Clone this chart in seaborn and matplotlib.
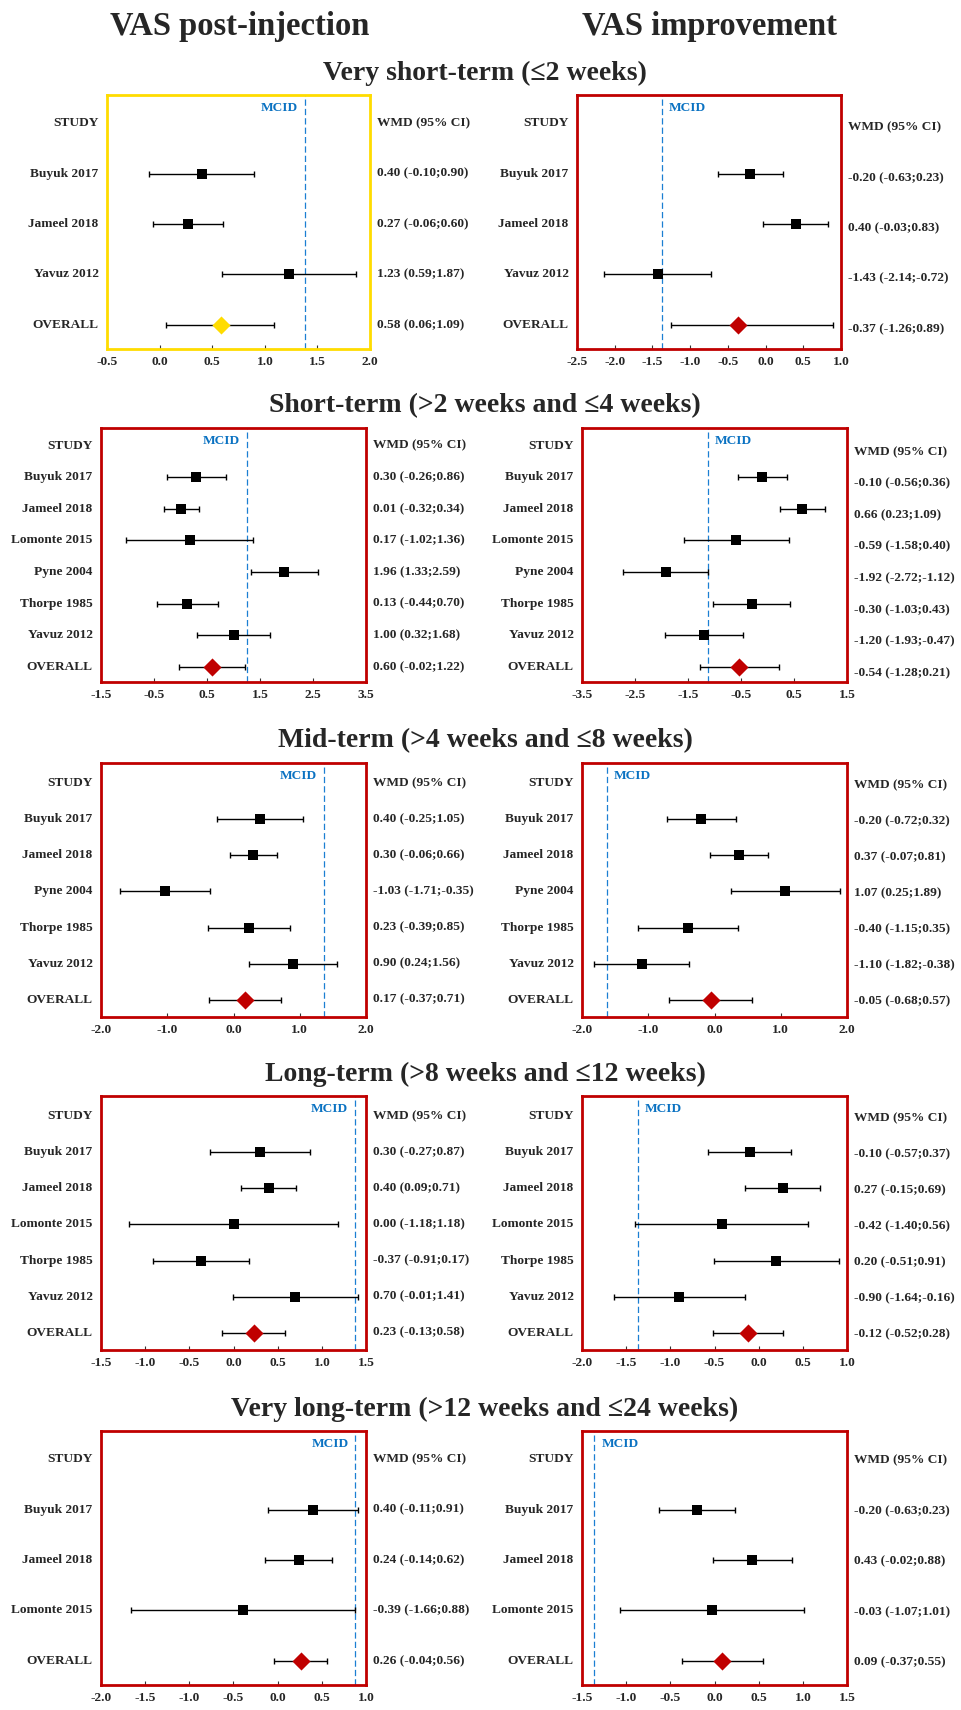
"""
Forest plots: VAS post-injection vs VAS improvement, by follow-up window.
"""

import numpy as np
import pandas as pd
import matplotlib

matplotlib.use("Agg")
import matplotlib.pyplot as plt
import seaborn as sns

sns.set_style("white")
plt.rcParams["font.family"] = ["Liberation Serif", "DejaVu Serif"]
plt.rcParams["font.weight"] = "bold"

# ── Data ─────────────────────────────────────────────
ROW_TITLES = [
    "Very short-term (≤2 weeks)",
    "Short-term (>2 weeks and ≤4 weeks)",
    "Mid-term (>4 weeks and ≤8 weeks)",
    "Long-term (>8 weeks and ≤12 weeks)",
    "Very long-term (>12 weeks and ≤24 weeks)",
]

STUDIES_VST = ["Buyuk 2017", "Jameel 2018", "Yavuz 2012", "OVERALL"]
STUDIES_ST = ["Buyuk 2017", "Jameel 2018", "Lomonte 2015", "Pyne 2004", "Thorpe 1985", "Yavuz 2012", "OVERALL"]
STUDIES_MT = ["Buyuk 2017", "Jameel 2018", "Pyne 2004", "Thorpe 1985", "Yavuz 2012", "OVERALL"]
STUDIES_LT = ["Buyuk 2017", "Jameel 2018", "Lomonte 2015", "Thorpe 1985", "Yavuz 2012", "OVERALL"]
STUDIES_VLT = ["Buyuk 2017", "Jameel 2018", "Lomonte 2015", "OVERALL"]

# VAS post-injection
POST_VST_WMD = [0.40, 0.27, 1.23, 0.58]
POST_VST_LO = [-0.10, -0.06, 0.59, 0.06]
POST_VST_HI = [0.90, 0.60, 1.87, 1.09]

POST_ST_WMD = [0.30, 0.01, 0.17, 1.96, 0.13, 1.00, 0.60]
POST_ST_LO = [-0.26, -0.32, -1.02, 1.33, -0.44, 0.32, -0.02]
POST_ST_HI = [0.86, 0.34, 1.36, 2.59, 0.70, 1.68, 1.22]

POST_MT_WMD = [0.40, 0.30, -1.03, 0.23, 0.90, 0.17]
POST_MT_LO = [-0.25, -0.06, -1.71, -0.39, 0.24, -0.37]
POST_MT_HI = [1.05, 0.66, -0.35, 0.85, 1.56, 0.71]

POST_LT_WMD = [0.30, 0.40, 0.00, -0.37, 0.70, 0.23]
POST_LT_LO = [-0.27, 0.09, -1.18, -0.91, -0.01, -0.13]
POST_LT_HI = [0.87, 0.71, 1.18, 0.17, 1.41, 0.58]

POST_VLT_WMD = [0.40, 0.24, -0.39, 0.26]
POST_VLT_LO = [-0.11, -0.14, -1.66, -0.04]
POST_VLT_HI = [0.91, 0.62, 0.88, 0.56]

# VAS improvement
IMP_VST_WMD = [-0.20, 0.40, -1.43, -0.37]
IMP_VST_LO = [-0.63, -0.03, -2.14, -1.26]
IMP_VST_HI = [0.23, 0.83, -0.72, 0.89]

IMP_ST_WMD = [-0.10, 0.66, -0.59, -1.92, -0.30, -1.20, -0.54]
IMP_ST_LO = [-0.56, 0.23, -1.58, -2.72, -1.03, -1.93, -1.28]
IMP_ST_HI = [0.36, 1.09, 0.40, -1.12, 0.43, -0.47, 0.21]

IMP_MT_WMD = [-0.20, 0.37, 1.07, -0.40, -1.10, -0.05]
IMP_MT_LO = [-0.72, -0.07, 0.25, -1.15, -1.82, -0.68]
IMP_MT_HI = [0.32, 0.81, 1.89, 0.35, -0.38, 0.57]

IMP_LT_WMD = [-0.10, 0.27, -0.42, 0.20, -0.90, -0.12]
IMP_LT_LO = [-0.57, -0.15, -1.40, -0.51, -1.64, -0.52]
IMP_LT_HI = [0.37, 0.69, 0.56, 0.91, -0.16, 0.28]

IMP_VLT_WMD = [-0.20, 0.43, -0.03, 0.09]
IMP_VLT_LO = [-0.63, -0.02, -1.07, -0.37]
IMP_VLT_HI = [0.23, 0.88, 1.01, 0.55]

# MCID reference line per panel (post, improvement)
MCID_POST = [1.38, 1.26, 1.36, 1.37, 0.88]
MCID_IMP = [-1.37, -1.13, -1.63, -1.37, -1.36]

# axis ranges and tick step per panel
XLIM_POST = [(-0.5, 2.0), (-1.5, 3.5), (-2.0, 2.0), (-1.5, 1.5), (-2.0, 1.0)]
STEP_POST = [0.5, 1.0, 1.0, 0.5, 0.5]
XLIM_IMP = [(-2.5, 1.0), (-3.5, 1.5), (-2.0, 2.0), (-2.0, 1.0), (-1.5, 1.5)]
STEP_IMP = [0.5, 1.0, 1.0, 0.5, 0.5]

post_panels = [
    (STUDIES_VST, POST_VST_WMD, POST_VST_LO, POST_VST_HI),
    (STUDIES_ST, POST_ST_WMD, POST_ST_LO, POST_ST_HI),
    (STUDIES_MT, POST_MT_WMD, POST_MT_LO, POST_MT_HI),
    (STUDIES_LT, POST_LT_WMD, POST_LT_LO, POST_LT_HI),
    (STUDIES_VLT, POST_VLT_WMD, POST_VLT_LO, POST_VLT_HI),
]
imp_panels = [
    (STUDIES_VST, IMP_VST_WMD, IMP_VST_LO, IMP_VST_HI),
    (STUDIES_ST, IMP_ST_WMD, IMP_ST_LO, IMP_ST_HI),
    (STUDIES_MT, IMP_MT_WMD, IMP_MT_LO, IMP_MT_HI),
    (STUDIES_LT, IMP_LT_WMD, IMP_LT_LO, IMP_LT_HI),
    (STUDIES_VLT, IMP_VLT_WMD, IMP_VLT_LO, IMP_VLT_HI),
]

# ── Style ─────────────────────────────────────────────
RED = "#C00000"
YELLOW = "#FFDC00"
MCID_LINE = "#1B7FD2"
MCID_TEXT = "#0A72C2"
FS = 9.6

W, H = 961, 1710
fig = plt.figure(figsize=(W / 100, H / 100), dpi=100)


def px_axes(x0, x1, top, bottom):
    return fig.add_axes([x0 / W, 1 - bottom / H, (x1 - x0) / W, (bottom - top) / H])


def forest(ax, studies, wmd, lo, hi, mcid, xlim, step, edge, diamond, wmd_shift):
    n = len(studies)
    df = pd.DataFrame({"study": studies, "wmd": wmd, "lo": lo, "hi": hi,
                       "y": np.arange(1, n + 1)})
    df["err_lo"] = df["wmd"] - df["lo"]
    df["err_hi"] = df["hi"] - df["wmd"]

    ax.errorbar(df["wmd"], df["y"], xerr=[df["err_lo"], df["err_hi"]], fmt="none",
                ecolor="black", elinewidth=1.0, capsize=2.0, capthick=1.0, zorder=2)
    sns.scatterplot(data=df.iloc[:-1], x="wmd", y="y", marker="s", s=58, color="black",
                    linewidth=0, ax=ax, zorder=3, legend=False)
    sns.scatterplot(data=df.iloc[-1:], x="wmd", y="y", marker="D", s=85, color=diamond,
                    linewidth=0, ax=ax, zorder=3, legend=False)

    ax.axvline(mcid, color=MCID_LINE, lw=0.9, ls=(0, (5, 2.5)), zorder=1)
    if mcid > 0:
        ax.annotate("MCID", xy=(mcid, 0.949), xycoords=("data", "axes fraction"),
                    xytext=(-5, 0), textcoords="offset points", ha="right", va="center",
                    color=MCID_TEXT, fontsize=FS, fontweight="bold")
    else:
        ax.annotate("MCID", xy=(mcid, 0.949), xycoords=("data", "axes fraction"),
                    xytext=(5, 0), textcoords="offset points", ha="left", va="center",
                    color=MCID_TEXT, fontsize=FS, fontweight="bold")

    ax.set_xlim(*xlim)
    ax.set_ylim(n + 0.48, -0.56)
    ticks = np.arange(xlim[0], xlim[1] + 1e-9, step)
    ax.set_xticks(ticks)
    ax.set_xticklabels([f"{round(t, 2) + 0.0:.1f}" for t in ticks], fontsize=FS, fontweight="bold")
    ax.set_yticks([])
    ax.set_xlabel("")
    ax.set_ylabel("")
    ax.tick_params(axis="x", direction="in", length=3, width=0.8, color="#333333", pad=5,
                   bottom=True, top=False)
    for sp in ax.spines.values():
        sp.set_visible(True)
        sp.set_color(edge)
        sp.set_linewidth(2.0)

    ytr = ax.get_yaxis_transform()
    ax.annotate("STUDY", xy=(0, 0), xycoords=ytr, xytext=(-6, 0), textcoords="offset points",
                ha="right", va="center", fontsize=FS, fontweight="bold")
    ax.annotate("WMD (95% CI)", xy=(1, 0), xycoords=ytr, xytext=(5, -wmd_shift),
                textcoords="offset points", ha="left", va="center", fontsize=FS, fontweight="bold")
    for _, r in df.iterrows():
        ax.annotate(r["study"], xy=(0, r["y"]), xycoords=ytr, xytext=(-6, 0),
                    textcoords="offset points", ha="right", va="center",
                    fontsize=FS, fontweight="bold")
        ax.annotate(f"{r['wmd']:.2f} ({r['lo']:.2f};{r['hi']:.2f})", xy=(1, r["y"]),
                    xycoords=ytr, xytext=(5, -wmd_shift), textcoords="offset points",
                    ha="left", va="center", fontsize=FS, fontweight="bold")


# ── Layout ────────────────────────────────────────────
tops = [95, 428, 763, 1096, 1431]
box_h = 254
imp_shift = [3, 4.5, 1.5, 1.5, 1]

for i in range(5):
    top = tops[i]
    if i == 0:
        lx, rx = (107, 370), (577, 841)
        left_edge, left_diamond = YELLOW, YELLOW
    else:
        lx, rx = (101, 366), (582, 847)
        left_edge, left_diamond = RED, RED

    ax_l = px_axes(lx[0], lx[1], top, top + box_h)
    forest(ax_l, *post_panels[i], MCID_POST[i], XLIM_POST[i], STEP_POST[i],
           left_edge, left_diamond, 0)

    ax_r = px_axes(rx[0], rx[1], top, top + box_h)
    forest(ax_r, *imp_panels[i], MCID_IMP[i], XLIM_IMP[i], STEP_IMP[i],
           RED, RED, imp_shift[i])

    fig.text(485 / W, 1 - (top - 22) / H, ROW_TITLES[i], ha="center", va="center",
             fontsize=20, fontweight="bold")

fig.text(240 / W, 1 - 26 / H, "VAS post-injection", ha="center", va="center",
         fontsize=23.5, fontweight="bold")
fig.text(710 / W, 1 - 26 / H, "VAS improvement", ha="center", va="center",
         fontsize=23.5, fontweight="bold")

fig.savefig("out.png", dpi=100, facecolor="white")
